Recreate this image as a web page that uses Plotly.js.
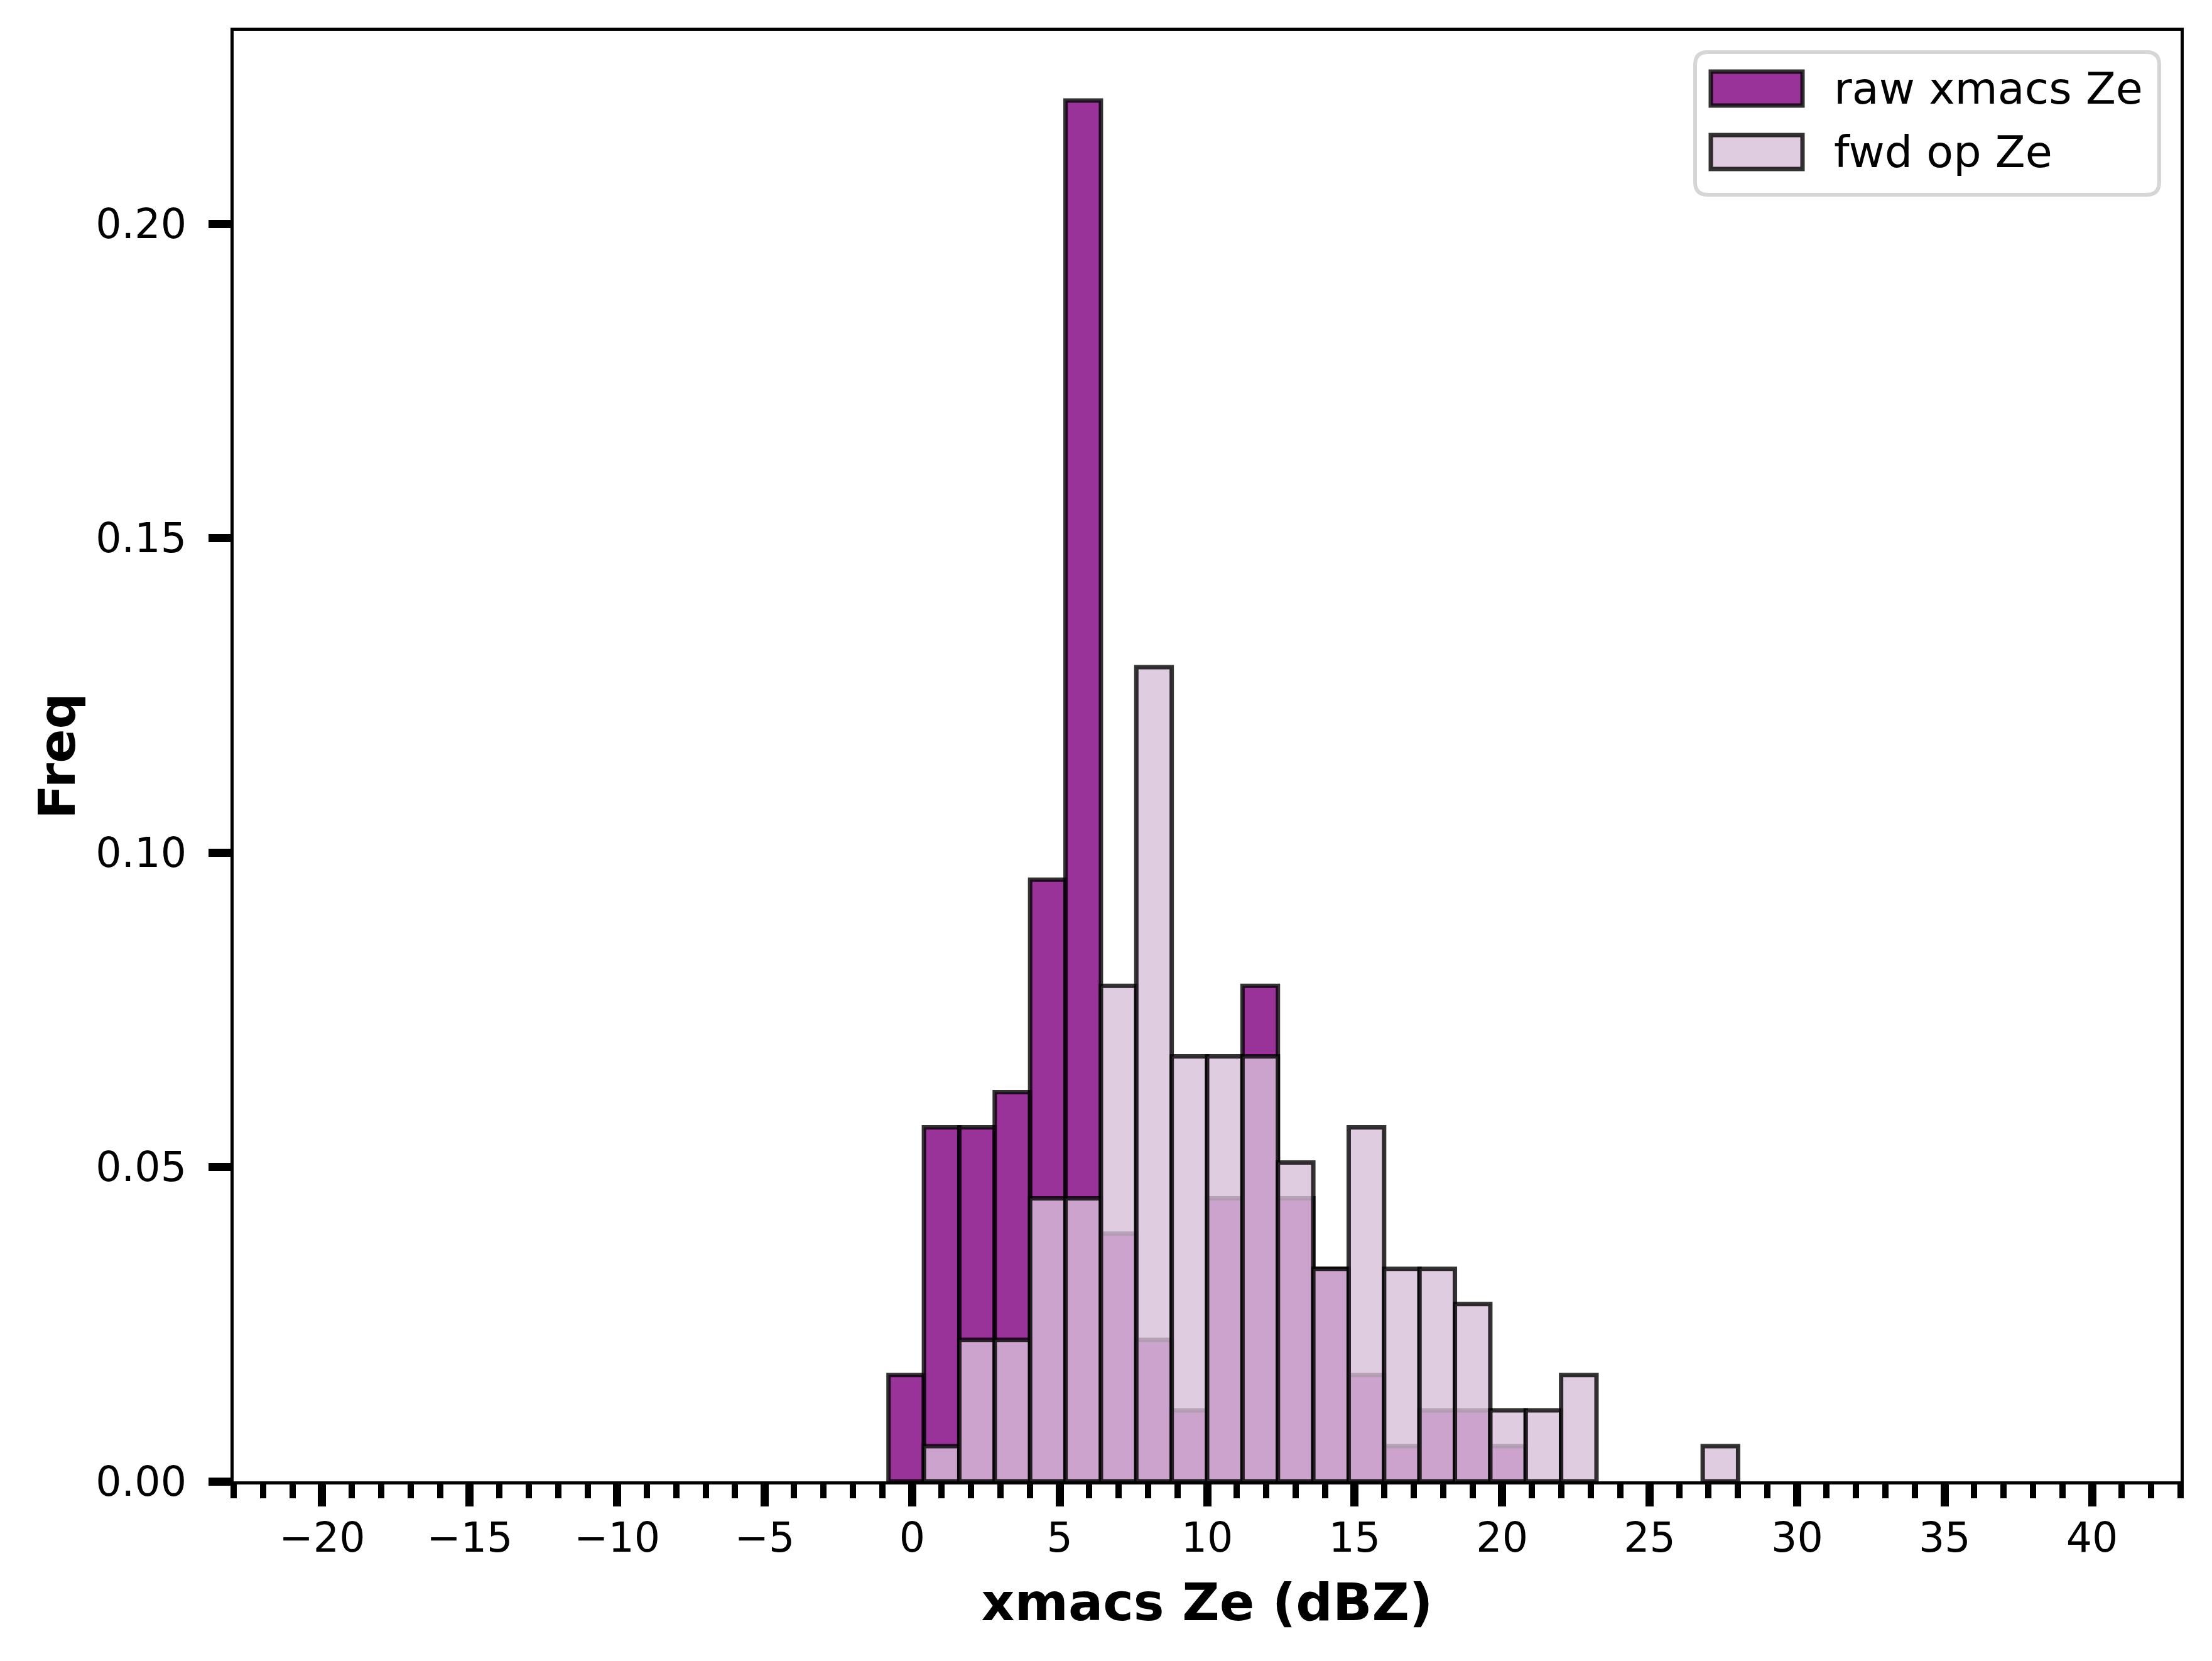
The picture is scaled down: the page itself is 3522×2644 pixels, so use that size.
<!DOCTYPE html>
<html>
<head>
<meta charset="utf-8">
<script src="https://cdn.plot.ly/plotly-3.0.1.min.js"></script>
<style>
  html, body { margin: 0; padding: 0; background: #fff; }
</style>
</head>
<body>
<div id="chart" style="width: 3522px; height: 2644px;"></div>
<script>
// histogram bins (1.2 dBZ wide)
var binCenters = [-0.2, 1.0, 2.2, 3.4, 4.6, 5.8, 7.0, 8.2, 9.4, 10.6, 11.8, 13.0,
                  14.2, 15.4, 16.6, 17.8, 19.0, 20.2, 21.4, 22.6, 23.8, 25.0, 26.2, 27.4];
var binWidth = 1.2;

var rawFreq = [0.0169, 0.0563, 0.0563, 0.0619, 0.0957, 0.2196, 0.0394, 0.0225, 0.0113, 0.0450, 0.0788, 0.0450,
               0.0338, 0.0169, 0.0056, 0.0113, 0.0113, 0.0056, 0, 0, 0, 0, 0, 0];
var fwdFreq = [0, 0.0056, 0.0225, 0.0225, 0.0450, 0.0450, 0.0788, 0.1295, 0.0676, 0.0676, 0.0676, 0.0507,
               0.0338, 0.0563, 0.0338, 0.0338, 0.0282, 0.0113, 0.0113, 0.0169, 0, 0, 0, 0.0056];

var seriesNames = ['raw xmacs Ze', 'fwd op Ze'];
var xTickVals = [-20, -15, -10, -5, 0, 5, 10, 15, 20, 25, 30, 35, 40];
var yTickVals = [0, 0.05, 0.10, 0.15, 0.20];
var yTickText = ['0.00', '0.05', '0.10', '0.15', '0.20'];

var rawColor = 'rgba(128,0,128,0.8)';
var fwdColor = 'rgba(216,191,216,0.8)';
var edgeColor = 'rgba(0,0,0,0.8)';

var W = 3522, H = 2644;
var M = {l: 372, r: 50, t: 49, b: 286};
var plotW = W - M.l - M.r, plotH = H - M.t - M.b;

// pixel -> paper helpers for the hand made legend
function px(X) { return (X - M.l) / plotW; }
function py(Y) { return (M.t + plotH - Y) / plotH; }

// empty bins are left out, otherwise plotly draws a flat edge on the axis
function histTrace(freq, name, fill) {
    var xs = [], ys = [];
    for (var i = 0; i < binCenters.length; i++) {
        if (freq[i] > 0) {
            xs.push(binCenters[i]);
            ys.push(freq[i]);
        }
    }
    return {
        type: 'bar',
        x: xs,
        y: ys,
        width: binWidth,
        name: name,
        marker: {color: fill, line: {color: edgeColor, width: 7}},
        hoverinfo: 'x+y'
    };
}

var raw_plot = histTrace(rawFreq, seriesNames[0], rawColor);
var fwd_plot = histTrace(fwdFreq, seriesNames[1], fwdColor);

// legend box, drawn with shapes so the patches get matplotlib size
var bx0 = px(2699), bx1 = px(3438), by0 = py(310), by1 = py(83);
var rx = 20 / plotW, ry = 20 / plotH;
var boxPath = 'M' + (bx0 + rx) + ',' + by1 + ' L' + (bx1 - rx) + ',' + by1 +
    ' Q' + bx1 + ',' + by1 + ' ' + bx1 + ',' + (by1 - ry) +
    ' L' + bx1 + ',' + (by0 + ry) +
    ' Q' + bx1 + ',' + by0 + ' ' + (bx1 - rx) + ',' + by0 +
    ' L' + (bx0 + rx) + ',' + by0 +
    ' Q' + bx0 + ',' + by0 + ' ' + bx0 + ',' + (by0 + ry) +
    ' L' + bx0 + ',' + (by1 - ry) +
    ' Q' + bx0 + ',' + by1 + ' ' + (bx0 + rx) + ',' + by1 + ' Z';

var legendRows = [141, 242];
var legendFills = [rawColor, fwdColor];
var shapes = [{
    type: 'path', xref: 'paper', yref: 'paper', path: boxPath,
    fillcolor: 'rgba(255,255,255,0.8)', line: {color: 'rgba(204,204,204,0.8)', width: 6}, layer: 'above'
}];
var annotations = [];
legendRows.forEach(function (cy, i) {
    shapes.push({
        type: 'rect', xref: 'paper', yref: 'paper',
        x0: px(2724), x1: px(2870), y0: py(cy + 27), y1: py(cy - 27),
        fillcolor: legendFills[i], line: {color: edgeColor, width: 7}, layer: 'above'
    });
    annotations.push({
        xref: 'paper', yref: 'paper', x: px(2918), y: py(cy),
        xanchor: 'left', yanchor: 'middle', showarrow: false,
        text: seriesNames[i],
        font: {family: 'DejaVu Sans', size: 70, color: 'black'}
    });
});

var layout = {
    width: W,
    height: H,
    margin: M,
    paper_bgcolor: 'white',
    plot_bgcolor: 'white',
    barmode: 'overlay',
    bargap: 0,
    showlegend: false,
    font: {family: 'DejaVu Sans', size: 65, color: 'black'},
    xaxis: {
        range: [-23, 43],
        tickvals: xTickVals,
        ticks: 'outside',
        ticklen: 35,
        tickwidth: 13,
        tickcolor: 'black',
        ticklabelstandoff: -6,
        tickfont: {family: 'DejaVu Sans', size: 65, color: 'black'},
        minor: {dtick: 1, tick0: 0, ticks: 'outside', ticklen: 22, tickwidth: 10, tickcolor: 'black', showgrid: false},
        showgrid: false,
        zeroline: false,
        showline: true,
        linecolor: 'black',
        linewidth: 5,
        mirror: true,
        title: {
            text: '<b>xmacs Ze (dBZ)</b>',
            font: {family: 'DejaVu Sans', size: 82, color: 'black'},
            standoff: 39
        }
    },
    yaxis: {
        range: [0, 0.2307],
        tickvals: yTickVals,
        ticktext: yTickText,
        ticks: 'outside',
        ticklen: 35,
        tickwidth: 13,
        tickcolor: 'black',
        ticklabelstandoff: 22,
        tickfont: {family: 'DejaVu Sans', size: 65, color: 'black'},
        showgrid: false,
        zeroline: false,
        showline: true,
        linecolor: 'black',
        linewidth: 5,
        mirror: true,
        title: {
            text: '<b>Freq</b>',
            font: {family: 'DejaVu Sans', size: 80, color: 'black'},
            standoff: 8
        }
    },
    shapes: shapes,
    annotations: annotations
};

Plotly.newPlot('chart', [raw_plot, fwd_plot], layout, {staticPlot: true});
</script>
</body>
</html>
